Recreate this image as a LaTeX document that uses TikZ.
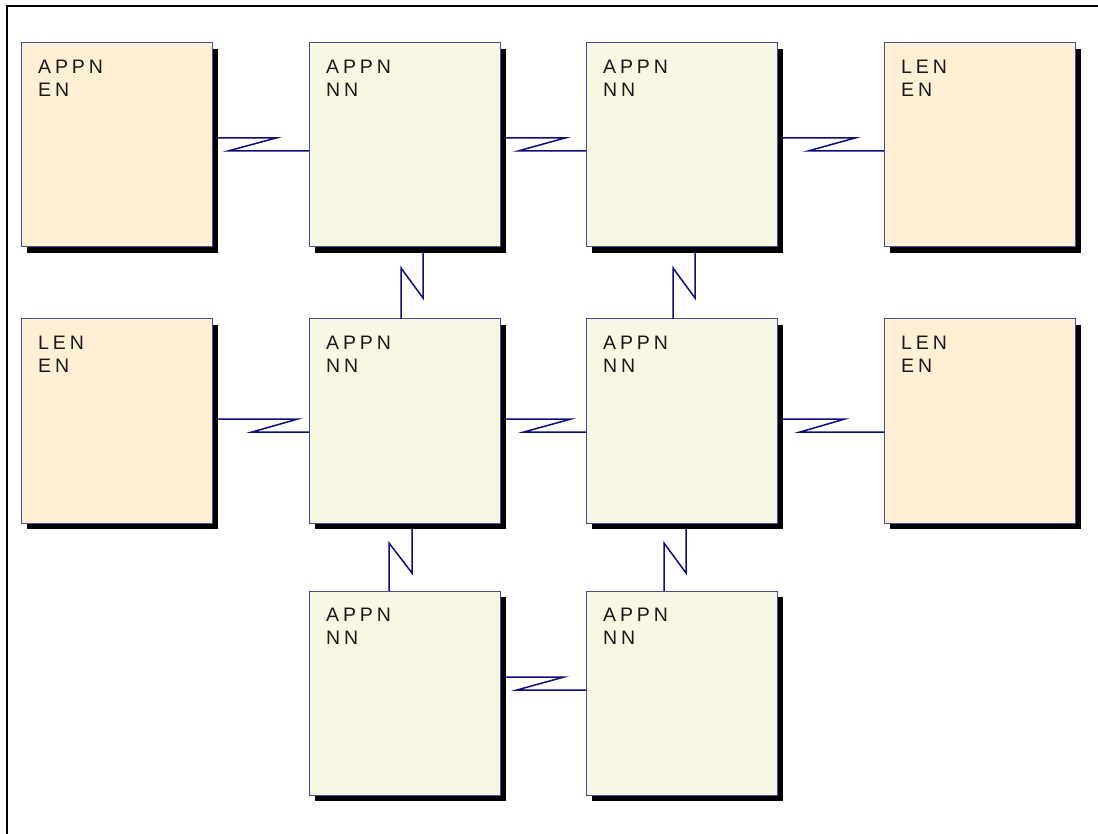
\documentclass[tikz,border=0pt]{standalone}
\usepackage{fontspec}
\setmainfont{Liberation Sans}
\newfontfamily\boxfont[LetterSpace=20]{Liberation Sans}
\usetikzlibrary{calc,shadows}
\definecolor{enfill}{HTML}{FEF0D5}
\definecolor{nnfill}{HTML}{F8F7E4}
\definecolor{boxline}{HTML}{4A4A98}
\definecolor{linkline}{HTML}{0C0C80}
\begin{document}
\begin{tikzpicture}[x=1pt,y=-1pt,
  basebox/.style={rectangle, anchor=north west, minimum width=191pt, minimum height=204pt,
    inner sep=0pt, outer sep=0pt, draw=boxline, line width=1pt,
    general shadow={fill=black, draw=none, shadow xshift=6pt, shadow yshift=-6pt}},
  enbox/.style={basebox, fill=enfill},
  nnbox/.style={basebox, fill=nnfill},
  boxtext/.style={anchor=north west, inner sep=0pt, align=left,
    font=\boxfont\fontsize{19.5}{23}\selectfont, text=black!90},
  zig/.style={draw=linkline, line width=1.5pt, line join=miter},
  frameline/.style={draw=black, line width=2pt}]
\useasboundingbox (0,0) rectangle (1098,834);
\draw[frameline] (1098,6.5) -- (6.5,6.5) -- (6.5,834);

% boxes
\node[enbox] (b11) at (21,43) {};
\node[nnbox] (b12) at (309,43) {};
\node[nnbox] (b13) at (586,43) {};
\node[enbox] (b14) at (884,43) {};
\node[enbox] (b21) at (21,319) {};
\node[nnbox] (b22) at (309,319) {};
\node[nnbox] (b23) at (586,319) {};
\node[enbox] (b24) at (884,319) {};
\node[nnbox] (b32) at (309,591) {};
\node[nnbox] (b33) at (586,591) {};

% texts
\node[boxtext] (t11) at ($(b11.north west)+(17,17)$) {APPN\\EN};
\node[boxtext] (t12) at ($(b12.north west)+(17,17)$) {APPN\\NN};
\node[boxtext] (t13) at ($(b13.north west)+(17,17)$) {APPN\\NN};
\node[boxtext] (t14) at ($(b14.north west)+(17,17)$) {LEN\\EN};
\node[boxtext] (t21) at ($(b21.north west)+(17,17)$) {LEN\\EN};
\node[boxtext] (t22) at ($(b22.north west)+(17,17)$) {APPN\\NN};
\node[boxtext] (t23) at ($(b23.north west)+(17,17)$) {APPN\\NN};
\node[boxtext] (t24) at ($(b24.north west)+(17,17)$) {LEN\\EN};
\node[boxtext] (t32) at ($(b32.north west)+(17,17)$) {APPN\\NN};
\node[boxtext] (t33) at ($(b33.north west)+(17,17)$) {APPN\\NN};

% horizontal links, row 1
\draw[zig] ($(b11.north east)+(6,95)$) -- ($(b11.north east)+(64,95)$) -- ($(b11.north east)+(16,108)$) -- ($(b12.north west)+(0,108)$);
\draw[zig] ($(b12.north east)+(6,95)$) -- ($(b12.north east)+(65,95)$) -- ($(b12.north east)+(18,108)$) -- ($(b13.north west)+(0,108)$);
\draw[zig] ($(b13.north east)+(6,95)$) -- ($(b13.north east)+(78,95)$) -- ($(b13.north east)+(31,108)$) -- ($(b14.north west)+(0,108)$);
% row 2
\draw[zig] ($(b21.north east)+(6,100)$) -- ($(b21.north east)+(86,100)$) -- ($(b21.north east)+(40,113)$) -- ($(b22.north west)+(0,113)$);
\draw[zig] ($(b22.north east)+(6,100)$) -- ($(b22.north east)+(71,100)$) -- ($(b22.north east)+(24,113)$) -- ($(b23.north west)+(0,113)$);
\draw[zig] ($(b23.north east)+(6,100)$) -- ($(b23.north east)+(68,100)$) -- ($(b23.north east)+(23,113)$) -- ($(b24.north west)+(0,113)$);
% row 3
\draw[zig] ($(b32.north east)+(6,86)$) -- ($(b32.north east)+(64,86)$) -- ($(b32.north east)+(17,99)$) -- ($(b33.north west)+(0,99)$);

% vertical links
\draw[zig] ($(b12.south west)+(114,6)$) -- ($(b12.south west)+(114,51)$) -- ($(b12.south west)+(92,21)$) -- ($(b22.north west)+(92,0)$);
\draw[zig] ($(b13.south west)+(109,6)$) -- ($(b13.south west)+(109,51)$) -- ($(b13.south west)+(87,21)$) -- ($(b23.north west)+(87,0)$);
\draw[zig] ($(b22.south west)+(103,6)$) -- ($(b22.south west)+(103,50)$) -- ($(b22.south west)+(80,20)$) -- ($(b32.north west)+(80,0)$);
\draw[zig] ($(b23.south west)+(100,6)$) -- ($(b23.south west)+(100,50)$) -- ($(b23.south west)+(78,20)$) -- ($(b33.north west)+(78,0)$);
\end{tikzpicture}
\end{document}
